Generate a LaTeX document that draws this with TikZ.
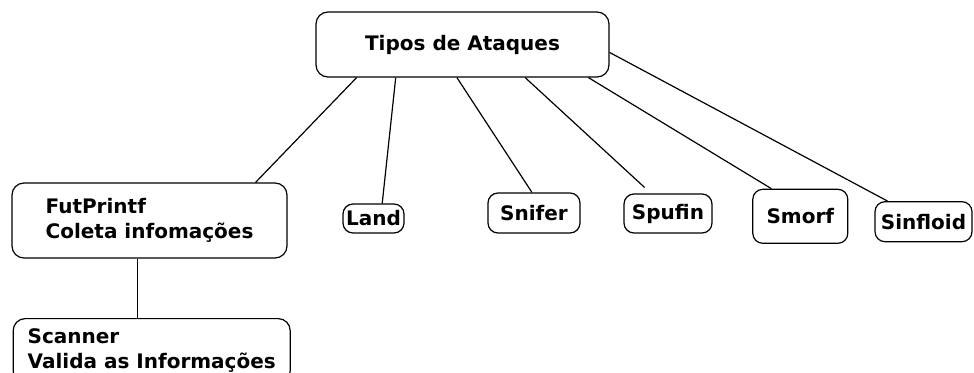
\documentclass[tikz,border=0pt]{standalone}
\usepackage{fontspec}
\setmainfont{DejaVu Sans}
\usetikzlibrary{calc, positioning}
\tikzset{
    ataque/.style={draw, rounded corners=10pt, line width=1.2pt, inner sep=0pt, align=center,
        font=\fontsize{20}{25.5}\selectfont\bfseries},
    tipos/.style={ataque, rounded corners=12pt}
}

\begin{document}
\begin{tikzpicture}[x=1pt, y=-1pt, line width=1.2pt]
        \useasboundingbox (0, 0) rectangle (974, 372);
        \begin{scope}
        \clip (0, 0) rectangle (974, 372);
        \node [tipos, minimum width=293pt, minimum height=65pt] (NTipos) at (462.5, 44.5) {Tipos de Ataques};
        \node [tipos, minimum width=275pt, minimum height=75pt, align=left] (NFut) at (149.5, 220.5) {FutPrintf\\Coleta infomações};
        \node [tipos, minimum width=277pt, inner ysep=10pt, align=left, anchor=north] (NScan) at (151.7, 318) {Scanner\\Valida as Informações};
        \node [ataque, minimum width=61pt, minimum height=29pt] (NLand) at (373.5, 218.5) {Land};
        \node [ataque, minimum width=92pt, minimum height=40pt] (NSnif) at (534, 213) {Snifer};
        \node [ataque, minimum width=88pt, minimum height=39pt] (NSpuf) at (668, 213.5) {Spufin};
        \node [ataque, minimum width=95pt, minimum height=54pt] (NSmorf) at (800.3, 216.3) {Smorf};
        \node [ataque, minimum width=97pt, minimum height=40pt] (NSinf) at (923.5, 221.7) {Sinfloid};

        % ramos saindo da caixa de cima
        \draw ($(NTipos.south west)!0.14!(NTipos.south east)$) -- ($(NFut.north west)!0.884!(NFut.north east)$);
        \draw ($(NTipos.south west)!0.273!(NTipos.south east)$) -- ($(NLand.north west)!0.64!(NLand.north east)$);
        \draw ($(NTipos.south west)!0.481!(NTipos.south east)$) -- ($(NSnif.north west)!0.478!(NSnif.north east)$);
        \draw [shorten >=8.8pt] ($(NTipos.south west)!0.713!(NTipos.south east)$) -- ($(NSpuf.north west)!0.31!(NSpuf.north east)$);
        \draw ($(NTipos.south west)!0.928!(NTipos.south east)$) -- ($(NSmorf.north west)!0.2!(NSmorf.north east)$);
        \draw ($(NTipos.north east)!0.62!(NTipos.south east)$) -- ($(NSinf.north west)!0.134!(NSinf.north east)$);

        \coordinate (CFut) at ($(NFut.south west)!0.458!(NFut.south east)$);
        \draw (CFut) -- (CFut |- NScan.north);
        \end{scope}
    \end{tikzpicture}
\end{document}
